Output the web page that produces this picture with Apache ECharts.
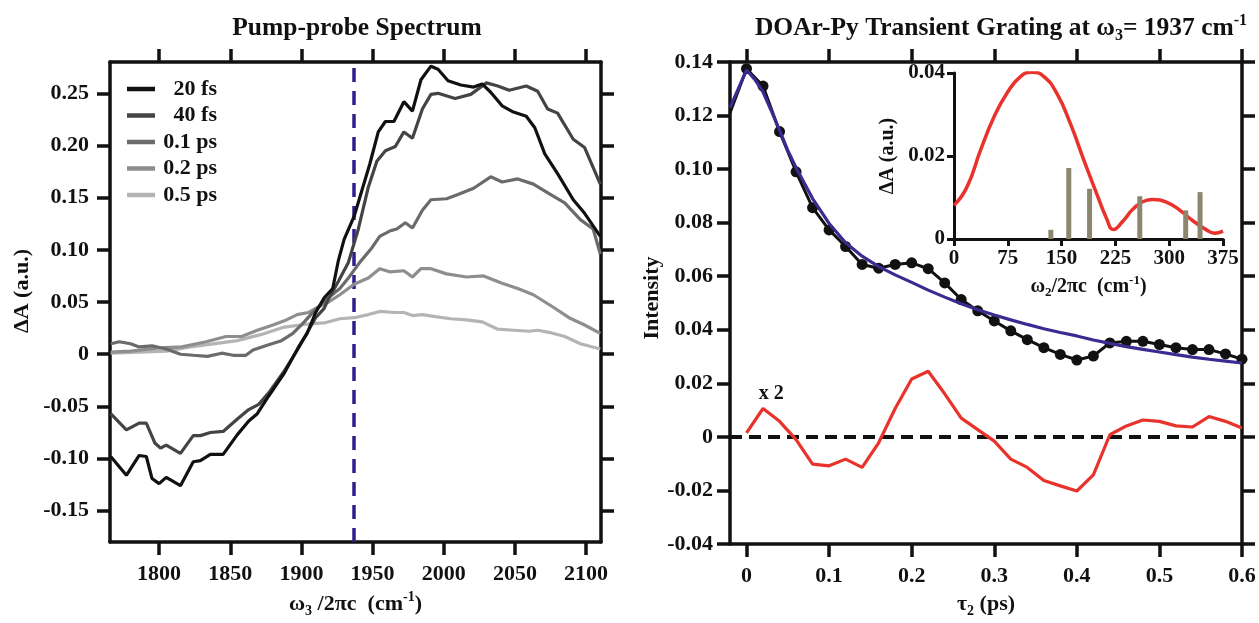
<!DOCTYPE html>
<html><head><meta charset="utf-8">
<script src="https://cdn.jsdelivr.net/npm/echarts@6/dist/echarts.min.js"></script>
<style>html,body{margin:0;padding:0;background:#fff}#c{width:1259px;height:623px}</style>
</head><body><div id="c"></div>
<script>
// ---------- Left panel: pump-probe spectra ----------
const seriesNames = ['20 fs', '40 fs', '0.1 ps', '0.2 ps', '0.5 ps'];
const seriesColors = ['#111111', '#444444', '#6b6b6b', '#8e8e8e', '#b4b4b4'];

const wn20 = [1766,1777,1786,1791,1795,1800,1805,1815,1824,1829,1836,1845,1855,1863,1869,1877,1888,1898,1904,1910,1916,1922,1926,1930,1937,1948,1954,1959,1965,1972,1978,1984,1991,1996,2003,2012,2021,2027,2033,2041,2049,2058,2064,2071,2080,2091,2099,2110];
const dA20 = [-0.098,-0.116,-0.097,-0.098,-0.119,-0.124,-0.118,-0.126,-0.103,-0.102,-0.096,-0.096,-0.077,-0.064,-0.057,-0.040,-0.018,0.007,0.020,0.040,0.054,0.063,0.090,0.110,0.132,0.182,0.213,0.223,0.223,0.242,0.233,0.263,0.276,0.273,0.262,0.258,0.256,0.259,0.251,0.238,0.232,0.228,0.217,0.192,0.173,0.148,0.135,0.113];

const wn40 = [1766,1777,1786,1791,1797,1801,1805,1815,1824,1829,1836,1845,1855,1863,1870,1877,1888,1898,1905,1910,1916,1919,1926,1933,1940,1947,1953,1959,1966,1972,1978,1985,1991,1996,2008,2019,2030,2038,2046,2058,2066,2073,2080,2091,2099,2110];
const dA40 = [-0.057,-0.0725,-0.066,-0.066,-0.085,-0.090,-0.087,-0.095,-0.078,-0.078,-0.075,-0.074,-0.062,-0.053,-0.048,-0.037,-0.016,0.006,0.023,0.035,0.044,0.053,0.070,0.088,0.120,0.160,0.185,0.195,0.199,0.213,0.207,0.235,0.249,0.250,0.245,0.249,0.260,0.257,0.253,0.257,0.252,0.235,0.231,0.206,0.198,0.163];

const wn01 = [1766,1772,1780,1786,1795,1805,1815,1824,1834,1844,1852,1861,1866,1877,1886,1894,1902,1910,1919,1927,1933,1941,1949,1955,1962,1967,1973,1978,1985,1991,2002,2010,2021,2033,2041,2052,2063,2074,2085,2096,2105,2110];
const dA01 = [0.010,0.012,0.010,0.007,0.008,0.005,0.000,-0.001,-0.002,0.001,-0.001,-0.001,0.004,0.009,0.013,0.020,0.031,0.043,0.054,0.063,0.073,0.088,0.101,0.113,0.118,0.120,0.126,0.121,0.138,0.148,0.149,0.153,0.159,0.170,0.165,0.168,0.163,0.154,0.145,0.129,0.120,0.096];

const wn02 = [1766,1780,1800,1816,1833,1847,1858,1869,1880,1888,1897,1905,1913,1919,1927,1937,1947,1955,1962,1972,1978,1984,1991,2002,2016,2028,2041,2052,2063,2077,2088,2099,2110];
const dA02 = [0.002,0.003,0.006,0.007,0.012,0.017,0.017,0.023,0.028,0.032,0.038,0.040,0.046,0.050,0.057,0.067,0.073,0.082,0.079,0.080,0.074,0.082,0.082,0.077,0.074,0.075,0.068,0.063,0.057,0.045,0.035,0.028,0.020];

const wn05 = [1766,1786,1805,1822,1838,1855,1872,1888,1905,1916,1927,1937,1947,1955,1966,1972,1978,1985,1994,2005,2016,2027,2038,2049,2060,2066,2074,2085,2096,2110];
const dA05 = [0.001,0.002,0.003,0.007,0.010,0.013,0.019,0.026,0.029,0.030,0.034,0.035,0.038,0.041,0.040,0.040,0.037,0.038,0.036,0.034,0.033,0.031,0.024,0.023,0.022,0.023,0.021,0.017,0.010,0.005];

const probeWn = 1937;
const leftXTicks = [1800,1850,1900,1950,2000,2050,2100];
const leftYTicks = [-0.15,-0.10,-0.05,0,0.05,0.10,0.15,0.20,0.25];

// ---------- Right panel: transient grating ----------
const tgT = [-0.02,0,0.02,0.04,0.06,0.08,0.10,0.12,0.14,0.16,0.18,0.20,0.22,0.24,0.26,0.28,0.30,0.32,0.34,0.36,0.38,0.40,0.42,0.44,0.46,0.48,0.50,0.52,0.54,0.56,0.58,0.60];
const tgI = [0.121,0.1375,0.131,0.114,0.099,0.0856,0.0773,0.0711,0.0644,0.0630,0.0644,0.0650,0.0628,0.0575,0.0513,0.0471,0.0433,0.0396,0.0363,0.0333,0.0308,0.0287,0.0302,0.0351,0.0357,0.0357,0.0345,0.0333,0.0326,0.0326,0.0310,0.0290];

const fitT = [-0.02,0,0.01,0.02,0.03,0.04,0.05,0.06,0.08,0.10,0.12,0.14,0.16,0.18,0.20,0.22,0.24,0.26,0.28,0.30,0.32,0.34,0.36,0.38,0.40,0.42,0.44,0.46,0.48,0.50,0.52,0.54,0.56,0.58,0.60];
const fitI = [0.123,0.137,0.1335,0.1288,0.1218,0.1145,0.107,0.1005,0.0890,0.0797,0.0725,0.0675,0.0636,0.0605,0.0577,0.0548,0.0522,0.0497,0.0475,0.0455,0.0437,0.0420,0.0404,0.0390,0.0377,0.0362,0.0349,0.0337,0.0327,0.0317,0.0307,0.0298,0.0290,0.0283,0.0276];

const resT = [0,0.02,0.04,0.06,0.08,0.10,0.12,0.14,0.16,0.18,0.20,0.22,0.24,0.26,0.28,0.30,0.32,0.34,0.36,0.38,0.40,0.42,0.44,0.46,0.48,0.50,0.52,0.54,0.56,0.58,0.60];
const resI = [0.0015,0.0106,0.0058,-0.0010,-0.0102,-0.0108,-0.0083,-0.0114,-0.0022,0.0106,0.0216,0.0245,0.0161,0.0070,0.0027,-0.0016,-0.0083,-0.0114,-0.0163,-0.0183,-0.0202,-0.0142,0.0008,0.0041,0.0063,0.0058,0.0041,0.0037,0.0076,0.0058,0.0033];
const resLabel = 'x 2';
const resLabelAt = [0.030, 0.0161];

const rightXTicks = [0,0.1,0.2,0.3,0.4,0.5,0.6];

// ---------- Inset: Fourier spectrum ----------
const ftW = [0,18,37,56,74,93,109,125,143,162,181,199,213,222,236,250,268,278,296,315,333,352,363,375];
const ftA = [0.0081,0.0125,0.0214,0.0295,0.0352,0.0392,0.0402,0.0392,0.0352,0.0279,0.0190,0.0109,0.0048,0.0023,0.0044,0.0073,0.0093,0.0095,0.0089,0.0069,0.0044,0.0022,0.0014,0.0019];
const modeW = [135,160,189,259,323,343];
const modeA = [0.0022,0.0171,0.0121,0.0103,0.0069,0.0113];

// ---------- Styling ----------
const FONT = '"Liberation Serif","Times New Roman",serif';
const TICKF = 22;
const AXW = 3.5;
const pair = (xs, ys) => xs.map((x, i) => [x, ys[i]]);
const fmt2 = v => (Math.abs(v) < 1e-9 ? '0' : v.toFixed(2));
const fmt1 = v => (Math.abs(v) < 1e-9 ? '0' : v.toFixed(1));
const fmt0 = v => String(Math.round(v));
const lblStyle = {color:'#111', fontFamily: FONT, fontWeight:'bold', fontSize: TICKF};
const mkRich = (big, small, lh) => ({
  a: {fontFamily: FONT, fontWeight:'bold', fontSize: big, lineHeight: lh, color:'#111'},
  sub: {fontFamily: FONT, fontWeight:'bold', fontSize: small, lineHeight: small, verticalAlign:'bottom', color:'#111'},
  sup: {fontFamily: FONT, fontWeight:'bold', fontSize: small, lineHeight: small, verticalAlign:'top', color:'#111'}
});
const rich = mkRich(22, 14, 28);
const richT = mkRich(25.5, 16, 31);
const richI = mkRich(20, 13, 25);

function frameAxis(extra) {
  return Object.assign({
    type: 'value', scale: false,
    splitLine: {show: false},
    axisLine: {show: true, onZero: false, lineStyle: {color:'#111', width: AXW}},
    axisTick: {show: true, inside: false, length: 13, lineStyle: {color:'#111', width: AXW}},
    axisLabel: Object.assign({show: true, margin: 6}, lblStyle)
  }, extra);
}
const tickCfg = vals => ({show: true, length: 13, customValues: vals, lineStyle: {color:'#111', width: AXW}});

const chart = echarts.init(document.getElementById('c'));

const leftSeries = [
  [wn20, dA20], [wn40, dA40], [wn01, dA01], [wn02, dA02], [wn05, dA05]
].map((d, i) => ({
  name: seriesNames[i], type: 'line', xAxisIndex: 0, yAxisIndex: 0,
  data: pair(d[0], d[1]), showSymbol: false, symbol: 'none',
  color: seriesColors[i], lineStyle: {width: 3.2, color: seriesColors[i]},
  z: 10 - i
}));

const option = {
  animation: false,
  backgroundColor: '#fff',
  title: [
    {text: '{a|Pump-probe Spectrum}', left: 357, top: 13, padding: 0, textAlign: 'center', textStyle: {rich: richT}},
    {text: '{a|DOAr-Py Transient Grating at ω}{sub|3}{a|= 1937 cm}{sup|-1}', left: 1001, top: 13, padding: 0, textAlign: 'center', textStyle: {rich: richT}}
  ],
  legend: {
    data: seriesNames, orient: 'vertical', left: 127, top: 78, itemGap: 4.5, padding: 0,
    icon: 'rect', itemWidth: 28, itemHeight: 4.5,
    formatter: n => '{r|' + n + '}',
    textStyle: {rich: {r: {width: 57, align: 'right', fontFamily: FONT, fontWeight: 'bold', fontSize: 22, lineHeight: 21, color: '#111'}}}
  },
  grid: [
    {left: 110, top: 62, width: 491, height: 491},
    {left: 730, top: 62, width: 512, height: 491},
    {left: 954, top: 73, width: 269, height: 166}
  ],
  xAxis: [
    frameAxis({gridIndex: 0, position: 'bottom', min: 1765.5, max: 2110.5,
      axisTick: tickCfg(leftXTicks),
      axisLabel: Object.assign({customValues: leftXTicks, margin: 21, formatter: fmt0}, lblStyle),
      name: '{a|ω}{sub|3}{a| /2πc  (cm}{sup|-1}{a|)}', nameLocation: 'middle', nameGap: 46, nameTextStyle: {rich}}),
    frameAxis({gridIndex: 0, position: 'top', min: 1765.5, max: 2110.5,
      axisTick: tickCfg(leftXTicks), axisLabel: {show: false}}),
    frameAxis({gridIndex: 1, position: 'bottom', min: -0.02, max: 0.6,
      axisTick: tickCfg(rightXTicks),
      axisLabel: Object.assign({customValues: rightXTicks, margin: 21, formatter: fmt1}, lblStyle),
      name: '{a|τ}{sub|2}{a| (ps)}', nameLocation: 'middle', nameGap: 46, nameTextStyle: {rich}}),
    frameAxis({gridIndex: 1, position: 'top', min: -0.02, max: 0.6,
      axisTick: tickCfg(rightXTicks), axisLabel: {show: false}}),
    frameAxis({gridIndex: 2, position: 'bottom', min: 0, max: 375, interval: 75,
      axisLine: {show: true, onZero: false, lineStyle: {color:'#111', width: 3}},
      axisTick: {show: true, length: 7, lineStyle: {color:'#111', width: 3}},
      axisLabel: Object.assign({margin: 9, formatter: fmt0}, lblStyle, {fontSize: 21}),
      name: '{a|ω}{sub|2}{a|/2πc  (cm}{sup|-1}{a|)}', nameLocation: 'middle', nameGap: 35, nameTextStyle: {rich: richI}})
  ],
  yAxis: [
    frameAxis({gridIndex: 0, position: 'left', min: -0.18, max: 0.28,
      axisTick: tickCfg(leftYTicks),
      axisLabel: Object.assign({customValues: leftYTicks, margin: 21, formatter: fmt2}, lblStyle),
      name: '{a|ΔA (a.u.)}', nameLocation: 'middle', nameGap: 74, nameRotate: 90,
      nameTextStyle: {rich, padding: [0, 0, 0, 22]}}),
    frameAxis({gridIndex: 0, position: 'right', min: -0.18, max: 0.28,
      axisTick: tickCfg(leftYTicks), axisLabel: {show: false}}),
    frameAxis({gridIndex: 1, position: 'left', min: -0.04, max: 0.14, interval: 0.02,
      axisLabel: Object.assign({margin: 17, formatter: fmt2}, lblStyle),
      name: '{a|Intensity}', nameLocation: 'middle', nameGap: 62, nameRotate: 90,
      nameTextStyle: {rich, padding: [0, 0, 0, 10]}}),
    frameAxis({gridIndex: 1, position: 'right', min: -0.04, max: 0.14, interval: 0.02,
      axisLabel: {show: false}}),
    frameAxis({gridIndex: 2, position: 'left', min: 0, max: 0.04, interval: 0.02,
      axisLine: {show: true, onZero: false, lineStyle: {color:'#111', width: 3}},
      axisTick: {show: true, length: 7, lineStyle: {color:'#111', width: 3}},
      axisLabel: Object.assign({margin: 9, formatter: v => (v === 0 ? '0' : v.toFixed(2))}, lblStyle, {fontSize: 21}),
      name: '{a|ΔA (a.u.)}', nameLocation: 'middle', nameGap: 54, nameRotate: 90, nameTextStyle: {rich: richI}})
  ],
  series: leftSeries.concat([
    {
      type: 'line', xAxisIndex: 0, yAxisIndex: 0, data: [], z: 12, silent: true,
      markLine: {symbol: 'none', silent: true, label: {show: false},
        lineStyle: {color: '#2c2090', width: 3.5, type: [14, 9]},
        data: [{xAxis: probeWn}]}
    },
    {
      type: 'line', xAxisIndex: 2, yAxisIndex: 2, data: [], z: 3, silent: true,
      markLine: {symbol: 'none', silent: true, label: {show: false},
        lineStyle: {color: '#111', width: 4, type: [12, 7]},
        data: [{yAxis: 0}]}
    },
    {
      name: 'TG', type: 'line', xAxisIndex: 2, yAxisIndex: 2,
      data: pair(tgT, tgI).map((p, i) => i === 0 ? {value: p, symbol: 'none'} : p),
      symbol: 'circle', symbolSize: 11, showAllSymbol: true,
      color: '#111', itemStyle: {color: '#111'}, lineStyle: {width: 3, color: '#111'}, z: 5
    },
    {
      name: 'fit', type: 'line', xAxisIndex: 2, yAxisIndex: 2,
      data: pair(fitT, fitI), showSymbol: false, symbol: 'none',
      color: '#3b2a90', lineStyle: {width: 3.2, color: '#3b2a90'}, z: 6
    },
    {
      name: 'residual', type: 'line', xAxisIndex: 2, yAxisIndex: 2,
      data: pair(resT, resI), showSymbol: false, symbol: 'none',
      color: '#e8322b', lineStyle: {width: 3.2, color: '#e8322b'}, z: 5,
      markPoint: {symbol: 'circle', symbolSize: 0, silent: true,
        label: {show: true, position: 'inside', formatter: resLabel, color: '#111', fontFamily: FONT, fontWeight: 'bold', fontSize: 20},
        data: [{coord: resLabelAt}]}
    },
    {
      name: 'FT', type: 'line', xAxisIndex: 4, yAxisIndex: 4, smooth: true,
      data: pair(ftW, ftA), showSymbol: false, symbol: 'none',
      color: '#e8322b', lineStyle: {width: 3.5, color: '#e8322b'}, z: 5
    },
    {
      name: 'modes', type: 'bar', xAxisIndex: 4, yAxisIndex: 4,
      data: pair(modeW, modeA), barWidth: 5,
      itemStyle: {color: '#8c866e'}, z: 6
    }
  ])
};
chart.setOption(option);
</script></body></html>
